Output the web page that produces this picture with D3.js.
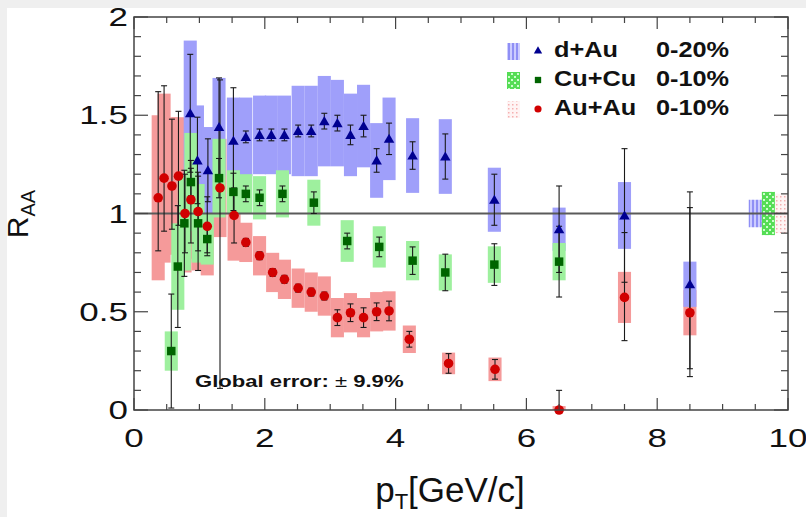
<!DOCTYPE html>
<html>
<head>
<meta charset="utf-8">
<script src="https://cdn.jsdelivr.net/npm/d3@7"></script>
<style>
  body { margin: 0; background: #fff; }
  svg { display: block; font-family: "Liberation Sans", Arial, sans-serif; }
</style>
</head>
<body>
<svg id="chart"></svg>
<script>
// d+Au 0-20%
var dauX    = [0.86, 0.97, 1.13, 1.30, 1.52, 1.71, 1.92, 2.10, 2.30, 2.51, 2.71, 2.91, 3.11, 3.31, 3.51, 3.71, 3.90, 4.26, 4.76, 5.51, 6.50, 7.50, 8.50];
var dauY    = [1.51, 1.27, 1.22, 1.44, 1.37, 1.39, 1.40, 1.40, 1.40, 1.42, 1.42, 1.47, 1.46, 1.40, 1.445, 1.27, 1.38, 1.295, 1.29, 1.07, 0.92, 0.99, 0.64];
var dauStat = [0.30, 0.22, 0.16, 0.25, 0.27, 0.03, 0.03, 0.03, 0.03, 0.03, 0.03, 0.04, 0.04, 0.05, 0.055, 0.06, 0.08, 0.07, 0.115, 0.13, 0.22, 0.34, 0.47];
var dauSys  = [0.37, 0.28, 0.22, 0.25, 0.22, 0.20, 0.20, 0.20, 0.20, 0.23, 0.23, 0.23, 0.22, 0.21, 0.21, 0.19, 0.21, 0.19, 0.19, 0.163, 0.11, 0.17, 0.115];

// Cu+Cu 0-10%
var cuX    = [0.57, 0.67, 0.77, 0.87, 0.98, 1.12, 1.30, 1.52, 1.71, 1.92, 2.27, 2.75, 3.26, 3.75, 4.26, 4.76, 5.51, 6.50];
var cuY    = [0.30, 0.73, 0.95, 1.16, 0.95, 0.87, 1.18, 1.11, 1.10, 1.08, 1.10, 1.055, 0.86, 0.83, 0.76, 0.70, 0.74, 0.755];
var cuStat = [0.29, 0.31, 0.27, 0.07, 0.24, 0.07, 0.10, 0.095, 0.04, 0.04, 0.04, 0.055, 0.04, 0.05, 0.07, 0.093, 0.106, 0.18];
var cuSys  = [0.10, 0.22, 0.24, 0.25, 0.20, 0.13, 0.20, 0.11, 0.10, 0.11, 0.12, 0.117, 0.106, 0.105, 0.10, 0.092, 0.093, 0.095];

// Au+Au 0-10% (asymmetric stat errors)
var auX    = [0.37, 0.46, 0.58, 0.68, 0.78, 0.87, 0.98, 1.12, 1.315, 1.53, 1.71, 1.92, 2.12, 2.30, 2.51, 2.71, 2.91, 3.11, 3.31, 3.51, 3.71, 3.90, 4.21, 4.81, 5.52, 6.50, 7.50, 8.50];
var auY    = [1.08, 1.18, 1.14, 1.19, 1.00, 1.07, 1.01, 0.935, 1.13, 0.99, 0.853, 0.785, 0.70, 0.665, 0.62, 0.60, 0.58, 0.47, 0.495, 0.47, 0.50, 0.504, 0.36, 0.237, 0.207, 0.0, 0.573, 0.495];
var auHi   = [0.54, 0.47, 0.34, 0.33, 0.20, 0.20, 0.20, 0.15, 0.55, 0.14, 0.02, 0.02, 0.02, 0.02, 0.02, 0.02, 0.02, 0.04, 0.045, 0.05, 0.045, 0.05, 0.04, 0.05, 0.05, 0.10, 0.33, 0.535];
var auLo   = [0.27, 0.27, 0.22, 0.25, 0.20, 0.22, 0.20, 0.15, 1.02, 0.14, 0.02, 0.02, 0.02, 0.02, 0.02, 0.02, 0.02, 0.04, 0.045, 0.05, 0.045, 0.05, 0.04, 0.05, 0.05, 0.00, 0.22, 0.285];
var auSys  = [0.42, 0.43, 0.35, 0.30, 0.30, 0.30, 0.30, 0.25, 0.25, 0.23, 0.10, 0.10, 0.10, 0.10, 0.10, 0.10, 0.10, 0.10, 0.10, 0.10, 0.10, 0.10, 0.07, 0.055, 0.06, 0.02, 0.13, 0.115];

// global (normalisation) errors drawn at R=1
var globX   = [9.5, 9.7, 9.9];
var globErr = [0.07, 0.11, 0.10];

var xTicks = [0, 2, 4, 6, 8, 10];
var yTicks = [0, 0.5, 1, 1.5, 2];
var yTickLabels = ["0", "0.5", "1", "1.5", "2"];

var legendNames = ["d+Au", "Cu+Cu", "Au+Au"];
var legendCent  = ["0-20%", "0-10%", "0-10%"];

var W = 806, H = 517;
var svg = d3.select("svg#chart").attr("width", W).attr("height", H);

// screenshot margin
svg.append("rect").attr("width", W).attr("height", H).attr("fill", "#efefef");
svg.append("rect").attr("x", 7).attr("y", 8).attr("width", W - 7).attr("height", H - 8).attr("fill", "#fff");

var x = d3.scaleLinear().domain([0, 10]).range([134, 788]);
var y = d3.scaleLinear().domain([0, 2]).range([410, 17]);

var boxW = 0.1;  // half width of sys boxes in GeV/c

var defs = svg.append("defs");
// blue hatched
var pb = defs.append("pattern").attr("id", "pblue").attr("patternUnits", "userSpaceOnUse")
  .attr("width", 4).attr("height", 4);
pb.append("rect").attr("width", 4).attr("height", 4).attr("fill", "#ccccff");
pb.append("rect").attr("width", 2).attr("height", 4).attr("fill", "#8f8ff5");
// green checker
var pg = defs.append("pattern").attr("id", "pgreen").attr("patternUnits", "userSpaceOnUse")
  .attr("width", 6).attr("height", 6);
pg.append("rect").attr("width", 6).attr("height", 6).attr("fill", "#55dd55");
pg.append("rect").attr("x", 1).attr("y", 1).attr("width", 2).attr("height", 2).attr("fill", "#ccffcc");
pg.append("rect").attr("x", 4).attr("y", 4).attr("width", 2).attr("height", 2).attr("fill", "#ccffcc");
// red faint dots
var pr = defs.append("pattern").attr("id", "pred").attr("patternUnits", "userSpaceOnUse")
  .attr("width", 4).attr("height", 4);
pr.append("rect").attr("width", 4).attr("height", 4).attr("fill", "#fff4f4");
pr.append("rect").attr("width", 1.5).attr("height", 1.5).attr("fill", "#f5b0b0");

function sysBoxes(cls, xs, ys, sys, color) {
  svg.append("g").selectAll("rect." + cls).data(xs).enter()
    .append("rect")
    .attr("class", cls)
    .attr("x", function(d) { return x(d - boxW); })
    .attr("width", function(d) { return x(d + boxW) - x(d - boxW); })
    .attr("y", function(d, i) { return y(Math.min(2, ys[i] + sys[i])); })
    .attr("height", function(d, i) {
      return y(Math.max(0, ys[i] - sys[i])) - y(Math.min(2, ys[i] + sys[i]));
    })
    .attr("fill", color);
}

sysBoxes("sr", auX, auY, auSys, "#f59a9a");
sysBoxes("sb", dauX, dauY, dauSys, "#9f9ffa");
sysBoxes("sg", cuX, cuY, cuSys, "#9ef09e");

// global error boxes
var globFill = ["url(#pblue)", "url(#pgreen)", "url(#pred)"];
svg.append("g").selectAll("rect").data(globX).enter()
  .append("rect")
  .attr("x", function(d) { return x(d - boxW); })
  .attr("width", function(d) { return x(d + boxW) - x(d - boxW); })
  .attr("y", function(d, i) { return y(1 + globErr[i]); })
  .attr("height", function(d, i) { return y(1 - globErr[i]) - y(1 + globErr[i]); })
  .attr("fill", function(d, i) { return globFill[i]; });

// unity line
svg.append("line")
  .attr("x1", x(0)).attr("x2", x(10)).attr("y1", y(1)).attr("y2", y(1))
  .attr("stroke", "#5a5a5a").attr("stroke-width", 2);

// stat error bars
function errBars(xs, ys, lo, hi) {
  var g = svg.append("g").attr("stroke", "#1a1a1a").attr("stroke-width", 1.1);
  xs.forEach(function(d, i) {
    var y0 = y(Math.max(0, ys[i] - lo[i])), y1 = y(Math.min(2, ys[i] + hi[i]));
    if (y0 - y1 < 2) return;
    g.append("line").attr("x1", x(d)).attr("x2", x(d)).attr("y1", y0).attr("y2", y1);
    g.append("line").attr("x1", x(d) - 3).attr("x2", x(d) + 3).attr("y1", y0).attr("y2", y0);
    g.append("line").attr("x1", x(d) - 3).attr("x2", x(d) + 3).attr("y1", y1).attr("y2", y1);
  });
}
errBars(auX, auY, auLo, auHi);
errBars(cuX, cuY, cuStat, cuStat);
errBars(dauX, dauY, dauStat, dauStat);

var triangle = d3.symbol().type(d3.symbolTriangle).size(48);
var square = d3.symbol().type(d3.symbolSquare).size(72);

svg.append("g").selectAll("circle").data(auX).enter()
  .append("circle")
  .attr("cx", function(d) { return x(d); })
  .attr("cy", function(d, i) { return y(auY[i]); })
  .attr("r", 4.8).attr("fill", "#d10000");

svg.append("g").selectAll("path").data(cuX).enter()
  .append("path")
  .attr("d", square)
  .attr("transform", function(d, i) { return "translate(" + x(d) + "," + y(cuY[i]) + ")"; })
  .attr("fill", "#006400");

svg.append("g").selectAll("path").data(dauX).enter()
  .append("path")
  .attr("d", triangle)
  .attr("transform", function(d, i) { return "translate(" + x(d) + "," + (y(dauY[i]) + 1) + ")"; })
  .attr("fill", "#000090");

// frame and ticks (inward, mirrored)
var axisCol = "#444";
var gAx = svg.append("g").attr("stroke", axisCol).attr("stroke-width", 1.2);
gAx.append("rect").attr("x", x(0)).attr("y", y(2)).attr("width", x(10) - x(0)).attr("height", y(0) - y(2))
  .attr("fill", "none").attr("stroke-width", 1.5);
d3.range(0, 10.01, 0.5).forEach(function(v) {
  var len = (v % 2 === 0) ? 12 : 6;
  gAx.append("line").attr("x1", x(v)).attr("x2", x(v)).attr("y1", y(0)).attr("y2", y(0) - len);
  gAx.append("line").attr("x1", x(v)).attr("x2", x(v)).attr("y1", y(2)).attr("y2", y(2) + len);
});
d3.range(0, 20.01, 1).forEach(function(k) {
  var v = k / 10;
  var len = (k % 5 === 0) ? 14 : 7;
  gAx.append("line").attr("x1", x(0)).attr("x2", x(0) + len).attr("y1", y(v)).attr("y2", y(v));
  gAx.append("line").attr("x1", x(10)).attr("x2", x(10) - len).attr("y1", y(v)).attr("y2", y(v));
});

// tick labels (stretched wide like the original)
svg.append("g").selectAll("text").data(xTicks).enter()
  .append("text")
  .attr("transform", function(d) { return "translate(" + x(d) + ",447) scale(1.4,1)"; })
  .attr("text-anchor", "middle").attr("font-size", 25).attr("fill", "#111")
  .text(function(d) { return d; });
svg.append("g").selectAll("text").data(yTicks).enter()
  .append("text")
  .attr("transform", function(d) { return "translate(128," + (y(d) + 9) + ") scale(1.4,1)"; })
  .attr("text-anchor", "end").attr("font-size", 25).attr("fill", "#111")
  .text(function(d, i) { return yTickLabels[i]; });

// axis titles
var xt = svg.append("text").attr("x", 450).attr("y", 502).attr("text-anchor", "middle")
  .attr("font-size", 35).attr("fill", "#111");
xt.append("tspan").text("p");
xt.append("tspan").attr("font-size", 22).attr("dy", 7).text("T");
xt.append("tspan").attr("dy", -7).text("[GeV/c]");

var yt = svg.append("text").attr("transform", "translate(28,214) rotate(-90)").attr("text-anchor", "middle")
  .attr("font-size", 30).attr("fill", "#111");
yt.append("tspan").text("R");
yt.append("tspan").attr("font-size", 20).attr("dy", 7).text("AA");

// global error note
var ge = svg.append("text").attr("transform", "translate(195,387) scale(1.3,1)")
  .attr("font-size", 17).attr("font-weight", "bold").attr("fill", "#111");
ge.append("tspan").text("Global error: ");
ge.append("tspan").attr("font-weight", "normal").text("\u00b1");
ge.append("tspan").text(" 9.9%");

// legend
var legY = [57, 86, 115];
var legFill = ["url(#pblue)", "url(#pgreen)", "url(#pred)"];
var legCol = ["#000090", "#006400", "#d10000"];
var leg = svg.append("g");
legendNames.forEach(function(name, i) {
  leg.append("rect").attr("x", 507).attr("y", legY[i] - 14).attr("width", 13).attr("height", 17)
    .attr("fill", legFill[i]);
  var sym = i === 0 ? d3.symbol().type(d3.symbolTriangle).size(30)
          : i === 1 ? d3.symbol().type(d3.symbolSquare).size(40)
          : d3.symbol().type(d3.symbolCircle).size(40);
  leg.append("path").attr("d", sym).attr("transform", "translate(538," + (legY[i] - 6) + ")")
    .attr("fill", legCol[i]);
  leg.append("text").attr("transform", "translate(554," + legY[i] + ") scale(1.15,1)")
    .attr("font-size", 22).attr("font-weight", "bold").attr("fill", "#111").text(name);
  leg.append("text").attr("transform", "translate(656," + legY[i] + ") scale(1.15,1)")
    .attr("font-size", 22).attr("font-weight", "bold").attr("fill", "#111").text(legendCent[i]);
});
</script>
</body>
</html>
